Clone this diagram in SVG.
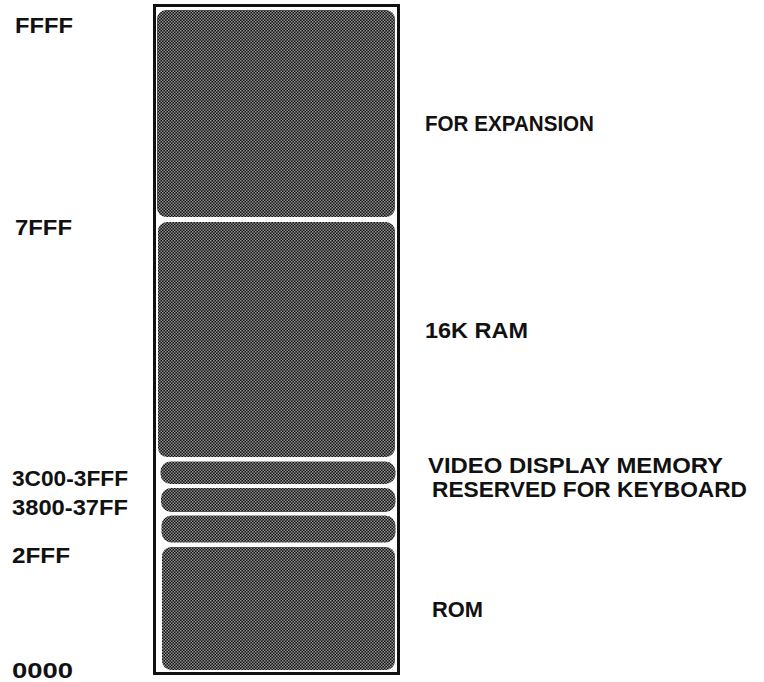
<svg xmlns="http://www.w3.org/2000/svg" width="764" height="682" viewBox="0 0 764 682">
  <defs>
    <pattern id="ht" patternUnits="userSpaceOnUse" width="3" height="3">
      <rect width="3" height="3" fill="#141414"/>
      <rect x="0" y="0" width="1.5" height="1.5" fill="#8e8e8e"/>
      <rect x="1.5" y="1.5" width="1.5" height="1.5" fill="#8e8e8e"/>
    </pattern>
  </defs>
  <style>
    .blk { fill: url(#ht); }
    .lbl { font-family: "Liberation Sans", Arial, Helvetica, sans-serif; font-size: 22.5px; font-weight: bold; fill: #111; }
    .frame { fill: none; stroke: #111; stroke-width: 3; }
  </style>
  <rect width="764" height="682" fill="#fff"/>

  <g id="memory-map">
    <rect class="frame" x="154.5" y="5.5" width="244" height="668"/>
  </g>

  <g id="expansion">
    <rect class="blk" x="157" y="10" width="238" height="207" rx="9"/>
    <text class="lbl" x="425" y="131" textLength="169" lengthAdjust="spacingAndGlyphs">FOR EXPANSION</text>
    <text class="lbl" x="15" y="33" textLength="58" lengthAdjust="spacingAndGlyphs">FFFF</text>
  </g>

  <g id="ram">
    <rect class="blk" x="158" y="222" width="237" height="235" rx="9"/>
    <text class="lbl" x="425" y="338" textLength="103" lengthAdjust="spacingAndGlyphs">16K RAM</text>
    <text class="lbl" x="15" y="235" textLength="57" lengthAdjust="spacingAndGlyphs">7FFF</text>
  </g>

  <g id="video">
    <rect class="blk" x="160.5" y="461.5" width="235" height="22.5" rx="10"/>
    <text class="lbl" x="428" y="473" textLength="295" lengthAdjust="spacingAndGlyphs">VIDEO DISPLAY MEMORY</text>
    <text class="lbl" x="12" y="486" textLength="116" lengthAdjust="spacingAndGlyphs">3C00-3FFF</text>
  </g>

  <g id="keyboard">
    <rect class="blk" x="161" y="488" width="234.5" height="24" rx="10"/>
    <text class="lbl" x="432" y="497" textLength="315" lengthAdjust="spacingAndGlyphs">RESERVED FOR KEYBOARD</text>
    <text class="lbl" x="12" y="515" textLength="116" lengthAdjust="spacingAndGlyphs">3800-37FF</text>
  </g>

  <g id="reserved">
    <rect class="blk" x="161.5" y="515.5" width="234" height="27" rx="10"/>
  </g>

  <g id="rom">
    <rect class="blk" x="162" y="547" width="233" height="123" rx="9"/>
    <text class="lbl" x="432" y="617" textLength="51" lengthAdjust="spacingAndGlyphs">ROM</text>
    <text class="lbl" x="12" y="563" textLength="58" lengthAdjust="spacingAndGlyphs">2FFF</text>
    <text class="lbl" x="12" y="678" textLength="61" lengthAdjust="spacingAndGlyphs">0000</text>
  </g>
</svg>
